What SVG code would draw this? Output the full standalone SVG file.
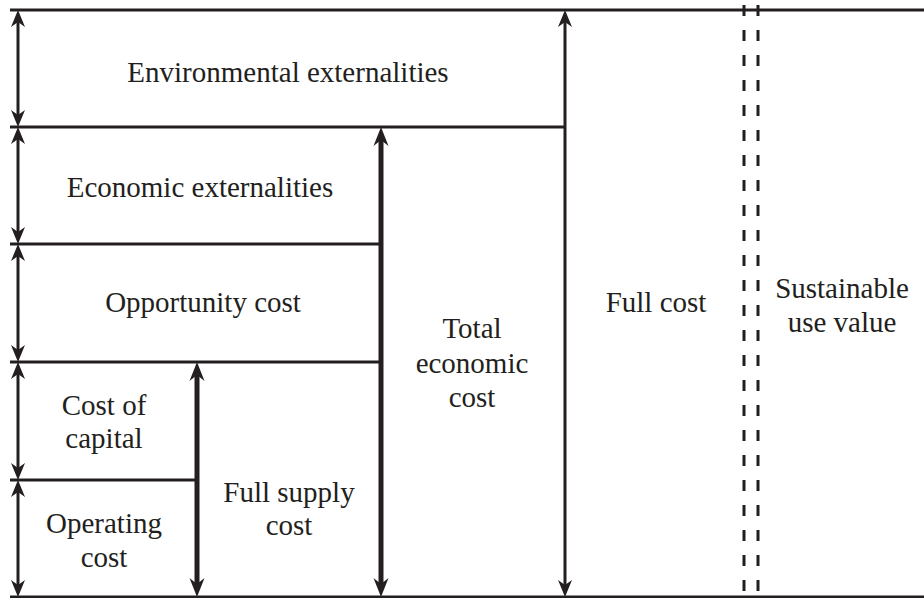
<svg xmlns="http://www.w3.org/2000/svg" width="924" height="598" viewBox="0 0 924 598">
  <defs>
    <style>
      .ln { stroke: #231f20; stroke-width: 3; fill: none; }
      .arr { stroke: #231f20; stroke-width: 3; fill: none; marker-start: url(#ah); marker-end: url(#ah); }
      .arr-thick { stroke: #231f20; stroke-width: 5; fill: none; marker-start: url(#ahb); marker-end: url(#ahb); }
      .dash { stroke: #231f20; stroke-width: 3; fill: none; stroke-dasharray: 11 14; }
      text { font-family: "Liberation Serif", "Times New Roman", serif; font-size: 29px; fill: #231f20; text-anchor: middle; }
    </style>
    <marker id="ah" markerUnits="userSpaceOnUse" markerWidth="40" markerHeight="40" viewBox="-20 -20 40 40" refX="0" refY="0" orient="auto-start-reverse" overflow="visible">
      <path d="M12,0 L-5,-7 L0,0 L-5,7 Z" fill="#231f20"/>
    </marker>
    <marker id="ahb" markerUnits="userSpaceOnUse" markerWidth="40" markerHeight="40" viewBox="-20 -20 40 40" refX="0" refY="0" orient="auto-start-reverse" overflow="visible">
      <path d="M13,0 L-6,-7.5 L0,0 L-6,7.5 Z" fill="#231f20"/>
    </marker>
  </defs>
  <rect width="924" height="598" fill="#ffffff"/>

  <g id="frame">
    <line class="ln" x1="10" y1="10" x2="924" y2="10"/>
    <line class="ln" x1="10" y1="127" x2="565" y2="127"/>
    <line class="ln" x1="10" y1="244" x2="381" y2="244"/>
    <line class="ln" x1="10" y1="362" x2="381" y2="362"/>
    <line class="ln" x1="10" y1="480" x2="197" y2="480"/>
    <line class="ln" x1="10" y1="597" x2="924" y2="597"/>
    <line class="dash" x1="744" y1="5" x2="744" y2="597"/>
    <line class="dash" x1="758" y1="5" x2="758" y2="597"/>
  </g>

  <g id="connectors">
    <line class="arr" x1="18" y1="22" x2="18" y2="115"/>
    <line class="arr" x1="18" y1="139" x2="18" y2="232"/>
    <line class="arr" x1="18" y1="256" x2="18" y2="350"/>
    <line class="arr" x1="18" y1="374" x2="18" y2="468"/>
    <line class="arr" x1="18" y1="492" x2="18" y2="585"/>
    <line class="arr-thick" x1="197" y1="375" x2="197" y2="584"/>
    <line class="arr-thick" x1="381" y1="140" x2="381" y2="584"/>
    <line class="arr" x1="565" y1="22" x2="565" y2="585"/>
  </g>

  <g id="node-environmental">
    <text x="288" y="82">Environmental externalities</text>
  </g>
  <g id="node-economic">
    <text x="200" y="197">Economic externalities</text>
  </g>
  <g id="node-opportunity">
    <text x="203" y="312">Opportunity cost</text>
  </g>
  <g id="node-capital">
    <text x="104" y="415">Cost of</text>
    <text x="104" y="448">capital</text>
  </g>
  <g id="node-operating">
    <text x="104" y="533">Operating</text>
    <text x="104" y="567">cost</text>
  </g>
  <g id="node-fullsupply">
    <text x="289" y="502">Full supply</text>
    <text x="289" y="535">cost</text>
  </g>
  <g id="node-totaleconomic">
    <text x="472" y="338">Total</text>
    <text x="472" y="373">economic</text>
    <text x="472" y="407">cost</text>
  </g>
  <g id="node-fullcost">
    <text x="656" y="312">Full cost</text>
  </g>
  <g id="node-sustainable">
    <text x="842" y="298">Sustainable</text>
    <text x="842" y="332">use value</text>
  </g>
</svg>
